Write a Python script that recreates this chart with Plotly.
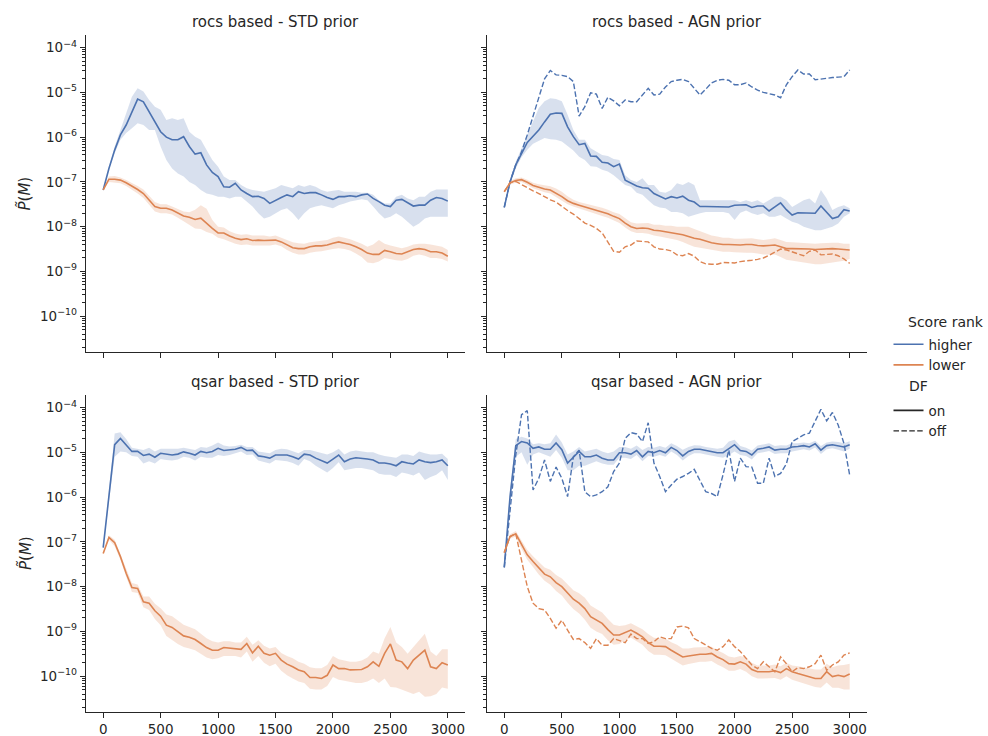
import numpy as np
import plotly.graph_objects as go

# ---------------- data (values are log10 of P~(M)) ----------------
steps = [0, 50, 100, 150, 200, 250, 300, 350, 400, 450, 500, 550, 600, 650, 700, 750, 800, 850, 900, 950,
         1000, 1050, 1100, 1150, 1200, 1250, 1300, 1350, 1400, 1450, 1500, 1550, 1600, 1650, 1700, 1750,
         1800, 1850, 1900, 1950, 2000, 2050, 2100, 2150, 2200, 2250, 2300, 2350, 2400, 2450, 2500, 2550,
         2600, 2650, 2700, 2750, 2800, 2850, 2900, 2950, 3000]
x_tick_labels = [0, 500, 1000, 1500, 2000, 2500, 3000]
y_tick_exponents = [-10, -9, -8, -7, -6, -5, -4]
panel_titles = ["rocs based - STD prior", "rocs based - AGN prior",
                "qsar based - STD prior", "qsar based - AGN prior"]

# rocs based - STD prior
rocs_std_higher = [-7.18,-6.70,-6.29,-5.95,-5.73,-5.43,-5.15,-5.21,-5.43,-5.65,
                   -5.88,-6.00,-6.06,-6.06,-5.99,-6.21,-6.38,-6.35,-6.62,-6.79,
                   -6.88,-7.11,-7.12,-7.03,-7.18,-7.26,-7.33,-7.32,-7.37,-7.48,
                   -7.41,-7.35,-7.29,-7.33,-7.22,-7.26,-7.24,-7.24,-7.29,-7.35,
                   -7.39,-7.33,-7.33,-7.31,-7.33,-7.29,-7.27,-7.37,-7.44,-7.52,
                   -7.55,-7.41,-7.39,-7.46,-7.54,-7.52,-7.52,-7.41,-7.35,-7.37,-7.43]
rocs_std_higher_up = [-7.18,-6.66,-6.21,-5.84,-5.47,-5.10,-4.91,-4.98,-5.17,-5.32,
                      -5.39,-5.62,-5.58,-5.62,-5.58,-5.88,-5.99,-6.06,-6.29,-6.51,
                      -6.66,-6.88,-6.96,-6.96,-7.07,-7.14,-7.18,-7.20,-7.22,-7.18,
                      -7.14,-7.07,-7.11,-7.14,-7.07,-7.11,-7.07,-7.11,-7.18,-7.22,
                      -7.20,-7.18,-7.22,-7.22,-7.22,-7.24,-7.24,-7.29,-7.41,-7.48,
                      -7.48,-7.33,-7.29,-7.37,-7.41,-7.33,-7.33,-7.22,-7.17,-7.17,-7.17]
rocs_std_higher_lo = [-7.18,-6.73,-6.36,-6.06,-5.91,-5.80,-5.69,-5.73,-5.84,-5.84,
                      -6.21,-6.51,-6.70,-6.81,-6.88,-7.00,-7.07,-7.18,-7.26,-7.29,
                      -7.33,-7.33,-7.37,-7.33,-7.33,-7.44,-7.55,-7.70,-7.82,-7.78,
                      -7.70,-7.63,-7.59,-7.70,-7.85,-7.70,-7.59,-7.55,-7.52,-7.55,
                      -7.59,-7.52,-7.48,-7.44,-7.41,-7.39,-7.41,-7.55,-7.70,-7.82,
                      -7.78,-7.70,-7.78,-7.89,-8.00,-7.93,-7.82,-7.78,-7.78,-7.78,-7.78]
rocs_std_lower = [-7.18,-6.94,-6.94,-6.96,-7.02,-7.09,-7.17,-7.26,-7.41,-7.55,
                  -7.59,-7.59,-7.63,-7.69,-7.76,-7.79,-7.84,-7.81,-7.93,-8.04,
                  -8.14,-8.14,-8.21,-8.26,-8.29,-8.27,-8.31,-8.30,-8.31,-8.31,
                  -8.30,-8.34,-8.41,-8.47,-8.49,-8.49,-8.45,-8.43,-8.43,-8.41,
                  -8.37,-8.34,-8.37,-8.40,-8.45,-8.51,-8.59,-8.62,-8.62,-8.53,
                  -8.56,-8.60,-8.61,-8.56,-8.51,-8.49,-8.51,-8.56,-8.56,-8.59,-8.66]
rocs_std_lower_up = [-7.18,-6.88,-6.87,-6.90,-6.96,-7.02,-7.09,-7.17,-7.30,-7.45,
                     -7.50,-7.50,-7.55,-7.60,-7.66,-7.68,-7.62,-7.52,-7.60,-7.85,
                     -8.00,-8.02,-8.10,-8.15,-8.18,-8.17,-8.20,-8.20,-8.20,-8.22,
                     -8.20,-8.25,-8.30,-8.35,-8.37,-8.38,-8.35,-8.33,-8.32,-8.30,
                     -8.25,-8.22,-8.25,-8.28,-8.33,-8.38,-8.45,-8.40,-8.30,-8.38,
                     -8.42,-8.45,-8.48,-8.45,-8.40,-8.38,-8.38,-8.40,-8.42,-8.45,-8.52]
rocs_std_lower_lo = [-7.18,-7.00,-7.01,-7.03,-7.09,-7.17,-7.26,-7.36,-7.52,-7.66,
                     -7.70,-7.70,-7.73,-7.80,-7.88,-7.95,-8.04,-8.05,-8.12,-8.16,
                     -8.25,-8.28,-8.33,-8.38,-8.41,-8.40,-8.42,-8.41,-8.42,-8.42,
                     -8.40,-8.44,-8.52,-8.58,-8.62,-8.62,-8.58,-8.56,-8.55,-8.53,
                     -8.50,-8.48,-8.50,-8.53,-8.60,-8.68,-8.80,-8.82,-8.78,-8.70,
                     -8.72,-8.75,-8.76,-8.72,-8.65,-8.62,-8.65,-8.70,-8.70,-8.72,-8.78]

# rocs based - AGN prior
rocs_agn_higher = [-7.57,-7.00,-6.62,-6.36,-6.12,-5.98,-5.84,-5.66,-5.49,-5.46,
                   -5.47,-5.77,-5.99,-6.17,-6.14,-6.42,-6.43,-6.56,-6.58,-6.66,
                   -6.60,-6.96,-7.03,-7.09,-7.13,-7.14,-7.26,-7.32,-7.38,-7.33,
                   -7.36,-7.32,-7.41,-7.45,-7.55,-7.55,-7.55,-7.56,-7.56,-7.56,
                   -7.52,-7.52,-7.51,-7.57,-7.54,-7.54,-7.65,-7.56,-7.47,-7.62,
                   -7.74,-7.69,-7.69,-7.69,-7.70,-7.54,-7.67,-7.82,-7.78,-7.62,-7.65]
rocs_agn_higher_up = [-7.57,-6.95,-6.55,-6.25,-5.95,-5.65,-5.35,-5.20,-5.13,-5.15,
                      -5.20,-5.50,-5.84,-6.06,-6.06,-6.25,-6.32,-6.40,-6.42,-6.49,
                      -6.51,-6.85,-6.96,-7.00,-6.92,-7.07,-7.07,-7.22,-7.24,-7.18,
                      -7.03,-7.07,-7.00,-7.07,-7.41,-7.41,-7.41,-7.41,-7.41,-7.41,
                      -7.41,-7.45,-7.41,-7.45,-7.41,-7.48,-7.41,-7.33,-7.33,-7.41,
                      -7.56,-7.48,-7.41,-7.37,-7.48,-7.18,-7.37,-7.63,-7.56,-7.52,-7.59]
rocs_agn_higher_lo = [-7.57,-7.05,-6.70,-6.45,-6.28,-6.15,-6.08,-6.02,-6.05,-6.06,
                      -6.10,-6.20,-6.30,-6.44,-6.51,-6.65,-6.66,-6.73,-6.77,-6.85,
                      -6.96,-7.07,-7.11,-7.24,-7.29,-7.41,-7.52,-7.57,-7.59,-7.67,
                      -7.67,-7.70,-7.78,-7.74,-7.70,-7.67,-7.67,-7.67,-7.67,-7.70,
                      -7.85,-7.69,-7.64,-7.70,-7.74,-7.70,-7.78,-7.78,-7.74,-7.82,
                      -7.89,-7.93,-8.00,-8.04,-8.08,-8.08,-8.04,-8.00,-7.93,-7.78,-7.70]
rocs_agn_higher_off = [-7.57,-7.00,-6.62,-6.33,-5.95,-5.55,-5.10,-4.70,-4.51,-4.61,
                       -4.62,-4.65,-4.76,-5.53,-5.32,-5.01,-5.04,-5.36,-5.11,-5.19,
                       -5.30,-5.17,-5.21,-5.21,-5.06,-4.91,-5.06,-5.04,-4.88,-4.76,
                       -4.73,-4.71,-4.76,-4.91,-5.06,-4.93,-4.79,-4.73,-4.71,-4.73,
                       -4.83,-4.83,-4.79,-4.88,-4.95,-5.00,-5.03,-5.06,-5.12,-4.83,
                       -4.65,-4.50,-4.59,-4.59,-4.72,-4.70,-4.68,-4.67,-4.66,-4.65,-4.50]
rocs_agn_lower = [-7.22,-7.02,-6.97,-6.95,-7.01,-7.08,-7.12,-7.16,-7.18,-7.25,
                  -7.33,-7.42,-7.48,-7.52,-7.56,-7.60,-7.63,-7.67,-7.71,-7.77,
                  -7.82,-7.92,-8.00,-8.04,-8.03,-8.04,-8.08,-8.09,-8.11,-8.13,
                  -8.16,-8.18,-8.22,-8.26,-8.28,-8.32,-8.36,-8.38,-8.40,-8.40,
                  -8.41,-8.41,-8.40,-8.40,-8.42,-8.43,-8.42,-8.41,-8.45,-8.49,
                  -8.49,-8.49,-8.49,-8.50,-8.51,-8.50,-8.49,-8.49,-8.50,-8.51,-8.52]
rocs_agn_lower_up = [-7.22,-6.98,-6.92,-6.90,-6.95,-7.02,-7.05,-7.08,-7.10,-7.15,
                     -7.22,-7.32,-7.40,-7.45,-7.48,-7.52,-7.55,-7.58,-7.62,-7.68,
                     -7.72,-7.82,-7.90,-7.93,-7.92,-7.92,-7.96,-7.96,-7.98,-7.98,
                     -8.00,-8.00,-8.00,-8.05,-8.10,-8.15,-8.20,-8.22,-8.25,-8.25,
                     -8.27,-8.27,-8.26,-8.26,-8.28,-8.30,-8.28,-8.26,-8.30,-8.34,
                     -8.35,-8.36,-8.36,-8.37,-8.38,-8.37,-8.36,-8.36,-8.36,-8.38,-8.38]
rocs_agn_lower_lo = [-7.22,-7.06,-7.02,-7.00,-7.07,-7.14,-7.18,-7.23,-7.26,-7.34,
                     -7.42,-7.50,-7.55,-7.60,-7.64,-7.68,-7.72,-7.76,-7.80,-7.86,
                     -7.92,-8.02,-8.10,-8.14,-8.14,-8.16,-8.20,-8.22,-8.24,-8.27,
                     -8.30,-8.34,-8.40,-8.45,-8.48,-8.50,-8.52,-8.54,-8.56,-8.56,
                     -8.57,-8.58,-8.58,-8.58,-8.60,-8.62,-8.62,-8.62,-8.68,-8.74,
                     -8.76,-8.78,-8.80,-8.82,-8.84,-8.84,-8.83,-8.80,-8.78,-8.76,-8.72]
rocs_agn_lower_off = [-7.22,-7.02,-6.99,-7.06,-7.14,-7.20,-7.26,-7.33,-7.40,-7.45,
                      -7.55,-7.64,-7.72,-7.82,-7.92,-7.97,-8.04,-8.14,-8.36,-8.55,
                      -8.57,-8.45,-8.41,-8.32,-8.33,-8.34,-8.45,-8.50,-8.51,-8.54,
                      -8.63,-8.65,-8.60,-8.66,-8.78,-8.83,-8.84,-8.84,-8.80,-8.80,
                      -8.81,-8.78,-8.77,-8.75,-8.73,-8.70,-8.64,-8.57,-8.50,-8.52,
                      -8.56,-8.60,-8.65,-8.55,-8.52,-8.63,-8.62,-8.61,-8.65,-8.72,-8.82]

# qsar based - STD prior
qsar_std_higher = [-7.13,-5.95,-4.83,-4.69,-4.83,-4.98,-4.98,-5.07,-5.04,-5.11,
                   -5.02,-5.04,-5.06,-5.04,-4.99,-5.02,-5.06,-4.98,-5.01,-4.98,
                   -4.91,-4.96,-4.95,-4.93,-4.89,-4.96,-4.95,-5.08,-5.10,-5.13,
                   -5.06,-5.06,-5.06,-5.10,-5.15,-5.04,-5.06,-5.13,-5.19,-5.24,
                   -5.15,-5.06,-5.21,-5.15,-5.12,-5.13,-5.15,-5.17,-5.24,-5.24,
                   -5.26,-5.30,-5.21,-5.24,-5.26,-5.17,-5.21,-5.23,-5.21,-5.17,-5.30]
qsar_std_higher_up = [-7.13,-5.80,-4.58,-4.55,-4.70,-4.90,-4.92,-4.95,-4.90,-4.98,
                      -4.92,-4.92,-4.93,-4.92,-4.90,-4.93,-4.95,-4.88,-4.90,-4.85,
                      -4.78,-4.85,-4.87,-4.86,-4.83,-4.88,-4.88,-4.98,-5.00,-5.02,
                      -4.95,-4.92,-4.93,-4.98,-5.02,-4.95,-4.95,-4.98,-5.02,-5.05,
                      -5.00,-4.92,-5.05,-4.98,-4.96,-4.98,-5.00,-5.00,-5.05,-5.08,
                      -5.10,-5.12,-5.05,-5.05,-5.08,-4.98,-5.02,-5.05,-5.05,-5.03,-5.15]
qsar_std_higher_lo = [-7.13,-6.10,-5.10,-4.98,-5.00,-5.08,-5.10,-5.25,-5.20,-5.25,
                      -5.15,-5.17,-5.18,-5.16,-5.10,-5.12,-5.18,-5.10,-5.12,-5.12,
                      -5.06,-5.08,-5.06,-5.02,-4.98,-5.06,-5.05,-5.18,-5.22,-5.25,
                      -5.17,-5.18,-5.20,-5.24,-5.30,-5.15,-5.20,-5.30,-5.38,-5.45,
                      -5.35,-5.22,-5.40,-5.38,-5.35,-5.35,-5.38,-5.40,-5.48,-5.50,
                      -5.50,-5.55,-5.45,-5.48,-5.52,-5.45,-5.62,-5.55,-5.50,-5.40,-5.62]
qsar_std_lower = [-7.26,-6.90,-7.02,-7.33,-7.70,-8.02,-8.04,-8.34,-8.37,-8.54,
                  -8.66,-8.86,-8.91,-9.01,-9.10,-9.13,-9.18,-9.27,-9.36,-9.42,
                  -9.42,-9.36,-9.37,-9.38,-9.40,-9.27,-9.48,-9.33,-9.49,-9.53,
                  -9.49,-9.64,-9.73,-9.79,-9.86,-9.90,-10.03,-10.03,-10.05,-9.98,
                  -9.75,-9.83,-9.83,-9.86,-9.86,-9.85,-9.79,-9.68,-9.78,-9.49,
                  -9.28,-9.64,-9.68,-9.83,-9.64,-9.53,-9.42,-9.79,-9.83,-9.70,-9.75]
qsar_std_lower_up = [-7.26,-6.85,-6.95,-7.28,-7.62,-7.92,-7.95,-8.22,-8.22,-8.38,
                     -8.48,-8.62,-8.66,-8.75,-8.85,-8.90,-8.95,-9.05,-9.15,-9.22,
                     -9.25,-9.22,-9.22,-9.25,-9.25,-9.12,-9.30,-9.20,-9.32,-9.38,
                     -9.35,-9.48,-9.55,-9.60,-9.68,-9.72,-9.80,-9.82,-9.82,-9.75,
                     -9.55,-9.62,-9.65,-9.68,-9.68,-9.65,-9.58,-9.45,-9.50,-9.15,
                     -8.90,-9.25,-9.35,-9.50,-9.35,-9.20,-9.05,-9.45,-9.55,-9.40,-9.40]
qsar_std_lower_lo = [-7.26,-6.95,-7.10,-7.40,-7.78,-8.12,-8.14,-8.46,-8.52,-8.72,
                     -8.86,-9.10,-9.18,-9.28,-9.35,-9.38,-9.42,-9.50,-9.58,-9.62,
                     -9.60,-9.55,-9.55,-9.55,-9.58,-9.45,-9.68,-9.55,-9.70,-9.78,
                     -9.72,-9.88,-9.98,-10.05,-10.12,-10.15,-10.28,-10.30,-10.30,-10.22,
                     -10.02,-10.08,-10.10,-10.12,-10.15,-10.15,-10.12,-10.05,-10.15,-10.05,
                     -10.24,-10.25,-10.30,-10.35,-10.40,-10.35,-10.46,-10.45,-10.40,-10.25,-10.28]

# qsar based - AGN prior
qsar_agn_higher = [-7.57,-6.00,-4.85,-4.76,-4.79,-4.91,-4.88,-4.93,-4.93,-4.79,
                   -4.94,-5.24,-5.11,-4.98,-5.10,-5.10,-5.06,-5.13,-5.17,-5.17,
                   -5.01,-5.01,-5.04,-4.96,-5.10,-4.98,-5.01,-4.96,-5.01,-4.89,
                   -4.96,-5.08,-4.98,-4.93,-4.93,-4.96,-4.98,-5.01,-5.01,-4.91,
                   -4.83,-4.96,-4.98,-5.06,-4.93,-4.91,-4.88,-4.95,-4.93,-4.93,
                   -4.88,-4.87,-4.85,-4.88,-4.81,-4.95,-4.85,-4.83,-4.85,-4.88,-4.83]
qsar_agn_higher_up = [-7.57,-5.85,-4.70,-4.65,-4.69,-4.82,-4.80,-4.82,-4.80,-4.60,
                      -4.78,-5.05,-4.98,-4.88,-4.98,-4.95,-4.92,-4.98,-5.02,-4.98,
                      -4.88,-4.88,-4.92,-4.85,-4.95,-4.88,-4.90,-4.86,-4.90,-4.80,
                      -4.86,-4.94,-4.88,-4.84,-4.85,-4.88,-4.90,-4.92,-4.90,-4.76,
                      -4.72,-4.86,-4.90,-4.96,-4.85,-4.83,-4.80,-4.86,-4.84,-4.85,
                      -4.80,-4.80,-4.78,-4.80,-4.74,-4.86,-4.78,-4.76,-4.77,-4.80,-4.75]
qsar_agn_higher_lo = [-7.57,-6.20,-5.10,-5.00,-5.28,-5.05,-5.00,-5.05,-5.10,-4.95,
                      -5.12,-5.40,-5.40,-5.30,-5.30,-5.25,-5.20,-5.25,-5.28,-5.28,
                      -5.12,-5.12,-5.15,-5.06,-5.20,-5.08,-5.10,-5.06,-5.10,-4.98,
                      -5.06,-5.18,-5.08,-5.02,-5.02,-5.05,-5.08,-5.10,-5.12,-5.06,
                      -4.98,-5.06,-5.08,-5.16,-5.02,-5.00,-4.97,-5.04,-5.02,-5.02,
                      -4.98,-4.95,-4.93,-4.96,-4.89,-5.04,-4.93,-4.91,-4.94,-4.98,-4.92]
qsar_agn_higher_off = [-7.57,-6.29,-5.06,-4.16,-4.07,-5.84,-5.58,-5.17,-5.65,-5.33,
                       -5.58,-5.99,-5.10,-4.95,-5.88,-5.99,-5.95,-5.88,-5.77,-5.43,
                       -5.24,-4.69,-4.56,-4.59,-4.76,-4.34,-5.24,-5.54,-5.88,-5.73,
                       -5.60,-5.54,-5.47,-5.38,-5.62,-5.88,-5.92,-5.99,-5.50,-4.95,
                       -5.65,-5.13,-5.32,-5.33,-5.69,-5.69,-5.13,-5.54,-5.47,-5.26,
                       -4.76,-4.69,-4.61,-4.57,-4.31,-4.04,-4.30,-4.11,-4.39,-4.80,-5.51]
qsar_agn_lower = [-7.24,-6.88,-6.82,-7.07,-7.29,-7.44,-7.59,-7.72,-7.78,-7.91,
                  -8.00,-8.15,-8.28,-8.37,-8.49,-8.67,-8.75,-8.82,-8.96,-9.08,
                  -9.08,-9.03,-8.97,-9.04,-9.12,-9.25,-9.33,-9.33,-9.34,-9.42,
                  -9.49,-9.57,-9.55,-9.53,-9.51,-9.51,-9.49,-9.57,-9.63,-9.72,
                  -9.73,-9.68,-9.73,-9.85,-9.90,-9.90,-9.90,-9.88,-9.92,-9.83,
                  -9.90,-9.94,-9.98,-10.01,-10.05,-10.05,-9.90,-10.01,-9.98,-10.01,-9.95]
qsar_agn_lower_up = [-7.24,-6.83,-6.76,-6.98,-7.18,-7.32,-7.45,-7.57,-7.62,-7.74,
                     -7.82,-7.96,-8.08,-8.15,-8.25,-8.42,-8.50,-8.58,-8.72,-8.85,
                     -8.88,-8.86,-8.82,-8.88,-8.95,-9.06,-9.14,-9.15,-9.16,-9.24,
                     -9.30,-9.38,-9.38,-9.36,-9.35,-9.35,-9.34,-9.42,-9.48,-9.56,
                     -9.58,-9.55,-9.58,-9.70,-9.76,-9.76,-9.76,-9.74,-9.78,-9.70,
                     -9.76,-9.78,-9.80,-9.82,-9.85,-9.85,-9.72,-9.80,-9.76,-9.75,-9.72]
qsar_agn_lower_lo = [-7.24,-6.93,-6.88,-7.16,-7.40,-7.56,-7.73,-7.87,-7.96,-8.10,
                     -8.20,-8.36,-8.50,-8.60,-8.74,-8.92,-9.00,-9.06,-9.20,-9.30,
                     -9.28,-9.20,-9.14,-9.22,-9.30,-9.44,-9.52,-9.52,-9.53,-9.60,
                     -9.68,-9.76,-9.73,-9.70,-9.68,-9.68,-9.66,-9.74,-9.80,-9.88,
                     -9.88,-9.84,-9.90,-10.00,-10.05,-10.05,-10.05,-10.04,-10.08,-10.00,
                     -10.08,-10.12,-10.16,-10.20,-10.24,-10.26,-10.14,-10.26,-10.26,-10.30,-10.30]
qsar_agn_lower_off = [-7.24,-6.88,-6.82,-7.40,-8.00,-8.37,-8.49,-8.52,-8.71,-8.93,
                      -8.75,-8.97,-9.18,-9.16,-9.25,-9.38,-9.16,-9.31,-9.31,-9.16,
                      -9.21,-9.25,-9.06,-9.16,-9.16,-9.27,-9.23,-9.12,-9.16,-9.16,
                      -8.90,-8.88,-8.92,-9.16,-9.23,-9.31,-9.38,-9.42,-9.34,-9.19,
                      -9.34,-9.45,-9.60,-9.75,-9.83,-9.68,-9.79,-9.90,-9.57,-9.72,
                      -9.90,-9.81,-9.83,-9.79,-9.72,-9.53,-9.87,-9.75,-9.68,-9.53,-9.48]

# ---------------- styling ----------------
BLUE = "#4c72b0"
ORANGE = "#dd8452"
BLUE_FILL = "rgba(76,114,176,0.22)"
ORANGE_FILL = "rgba(221,132,82,0.22)"
INK = "#262626"
FONT = "DejaVu Sans"
DASH = "5.5px,2.4px"
Y_RANGE = [-10.8, -3.72]
W, H = 988, 736


def pv(a):
    return np.power(10.0, np.asarray(a, dtype=float))


fig = go.Figure()

panels = [
    ("x", "y", rocs_std_higher, rocs_std_higher_up, rocs_std_higher_lo, None,
     rocs_std_lower, rocs_std_lower_up, rocs_std_lower_lo, None),
    ("x2", "y2", rocs_agn_higher, rocs_agn_higher_up, rocs_agn_higher_lo, rocs_agn_higher_off,
     rocs_agn_lower, rocs_agn_lower_up, rocs_agn_lower_lo, rocs_agn_lower_off),
    ("x3", "y3", qsar_std_higher, qsar_std_higher_up, qsar_std_higher_lo, None,
     qsar_std_lower, qsar_std_lower_up, qsar_std_lower_lo, None),
    ("x4", "y4", qsar_agn_higher, qsar_agn_higher_up, qsar_agn_higher_lo, qsar_agn_higher_off,
     qsar_agn_lower, qsar_agn_lower_up, qsar_agn_lower_lo, qsar_agn_lower_off),
]

for xa, ya, hi, hi_up, hi_lo, hi_off, lo, lo_up, lo_lo, lo_off in panels:
    for mean, up, low, off, col, fill in ((hi, hi_up, hi_lo, hi_off, BLUE, BLUE_FILL),
                                          (lo, lo_up, lo_lo, lo_off, ORANGE, ORANGE_FILL)):
        fig.add_trace(go.Scatter(
            x=steps + steps[::-1], y=np.concatenate([pv(up), pv(low)[::-1]]),
            fill="toself", fillcolor=fill, line=dict(width=0), mode="lines",
            hoverinfo="skip", showlegend=False, xaxis=xa, yaxis=ya))
        fig.add_trace(go.Scatter(
            x=steps, y=pv(mean), mode="lines", line=dict(color=col, width=1.6),
            showlegend=False, xaxis=xa, yaxis=ya))
        if off is not None:
            fig.add_trace(go.Scatter(
                x=steps, y=pv(off), mode="lines",
                line=dict(color=col, width=1.4, dash=DASH),
                showlegend=False, xaxis=xa, yaxis=ya))

# legend entries (group headings are drawn as annotations, like seaborn's subtitles)
fig.add_trace(go.Scatter(x=[None], y=[None], mode="lines", name="higher",
                         line=dict(color=BLUE, width=1.6), legendgroup="rank",
                         xaxis="x", yaxis="y"))
fig.add_trace(go.Scatter(x=[None], y=[None], mode="lines", name="lower",
                         line=dict(color=ORANGE, width=1.6), legendgroup="rank",
                         xaxis="x", yaxis="y"))
fig.add_trace(go.Scatter(x=[None], y=[None], mode="lines", name="on",
                         line=dict(color=INK, width=1.6), legendgroup="df",
                         xaxis="x", yaxis="y"))
fig.add_trace(go.Scatter(x=[None], y=[None], mode="lines", name="off",
                         line=dict(color=INK, width=1.4, dash=DASH), legendgroup="df",
                         xaxis="x", yaxis="y"))

major_vals = [10.0 ** e for e in y_tick_exponents]
major_text = ["10<sup>\u2212%d</sup>" % (-e) for e in y_tick_exponents]
minor_vals = [k * 10.0 ** e for e in range(-11, -3) for k in range(2, 10)]

common = dict(showline=True, linecolor=INK, linewidth=1.25, ticks="outside", ticklen=5,
              tickwidth=1.25, tickcolor=INK, showgrid=False, zeroline=False, automargin=False,
              tickfont=dict(family=FONT, size=13.5, color=INK))

xdom_l = [0.0870, 0.4707]
xdom_r = [0.4929, 0.8775]
ydom_t = [0.5217, 0.9524]
ydom_b = [0.0326, 0.4633]

layout_axes = {}
specs = [("xaxis", "yaxis", "y", "x", xdom_l, ydom_t, False, True, 5),
         ("xaxis2", "yaxis2", "y2", "x2", xdom_r, ydom_t, False, False, 6),
         ("xaxis3", "yaxis3", "y3", "x3", xdom_l, ydom_b, True, True, 7),
         ("xaxis4", "yaxis4", "y4", "x4", xdom_r, ydom_b, True, False, 8)]
for xk, yk, yanchor, xanchor, xd, yd, xlab, ylab, mnum in specs:
    layout_axes[xk] = dict(common, domain=xd, anchor=yanchor, range=[-150, 3150],
                           tickvals=x_tick_labels, ticktext=[str(v) for v in x_tick_labels],
                           showticklabels=xlab)
    layout_axes[yk] = dict(common, domain=yd, anchor=xanchor, type="log",
                           range=Y_RANGE, tickvals=major_vals, ticktext=major_text,
                           showticklabels=ylab)
    # overlay axis that carries the minor (log) ticks
    layout_axes["yaxis%d" % mnum] = dict(overlaying=yanchor, anchor=xanchor, side="left",
                                         type="log", range=Y_RANGE, tickvals=minor_vals,
                                         ticks="outside", ticklen=2.5, tickwidth=0.9,
                                         tickcolor=INK, showticklabels=False, showline=False,
                                         showgrid=False, zeroline=False, automargin=False)
    fig.add_trace(go.Scatter(x=[None], y=[None], mode="lines", showlegend=False,
                             hoverinfo="skip", xaxis=xanchor, yaxis="y%d" % mnum))

annotations = []
title_pos = [(0.2788, 0.9701), (0.6852, 0.9701), (0.2788, 0.4810), (0.6852, 0.4810)]
for t, (ax, ay) in zip(panel_titles, title_pos):
    annotations.append(dict(text=t, x=ax, y=ay, xref="paper", yref="paper",
                            showarrow=False, xanchor="center", yanchor="middle",
                            font=dict(family=FONT, size=15, color=INK)))
for ay in (0.7371, 0.2486):
    annotations.append(dict(text="<i>P̃</i>(<i>M</i>)", x=0.0253, y=ay, xref="paper",
                            yref="paper", showarrow=False, textangle=-90,
                            xanchor="center", yanchor="middle",
                            font=dict(family=FONT, size=15, color=INK)))
# legend headings
for txt, px, py in (("Score rank", 906, 322), ("DF", 907, 386)):
    annotations.append(dict(text=txt, x=px / W, y=1 - py / H, xref="paper", yref="paper",
                            showarrow=False, xanchor="left", yanchor="middle",
                            font=dict(family=FONT, size=14, color=INK)))

fig.update_layout(
    width=W, height=H,
    margin=dict(l=0, r=0, t=0, b=0),
    paper_bgcolor="white", plot_bgcolor="white",
    font=dict(family=FONT, size=13, color=INK),
    showlegend=True,
    legend=dict(x=888.5 / W, y=1 - 329 / H, xanchor="left", yanchor="top",
                font=dict(family=FONT, size=13.5, color=INK),
                tracegroupgap=25, itemwidth=30, bgcolor="rgba(0,0,0,0)",
                traceorder="grouped"),
    annotations=annotations,
    **layout_axes,
)

fig.write_html("out.html")
